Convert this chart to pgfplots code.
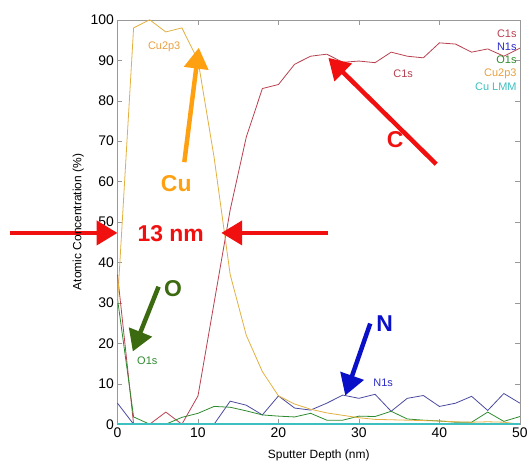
\documentclass[border=0pt]{standalone}
\usepackage{pgfplots}
\pgfplotsset{compat=1.18}
\usepackage{fontspec}
\setmainfont{Liberation Sans}
\usetikzlibrary{arrows.meta}
\definecolor{cC}{HTML}{B8404F}
\definecolor{cN}{HTML}{4A4AA0}
\definecolor{cNt}{HTML}{2A2AC8}
\definecolor{cO}{HTML}{2E8A2E}
\definecolor{cCu}{HTML}{E2B040}
\definecolor{cCut}{HTML}{E8A040}
\definecolor{cLMM}{HTML}{3EC0C0}
\definecolor{aRed}{HTML}{F01010}
\definecolor{aOrange}{HTML}{FFA010}
\definecolor{aGreen}{HTML}{3C6A10}
\definecolor{aBlue}{HTML}{0A10C8}

\pgfplotstableread{
x   C1s   N1s   O1s   Cu2p3  CuLMM
0   37    5.2   31    30     0
2   0     0     1.8   98     0
4   0     0     0     100    0
6   3     0     0     97     0
8   0     0     1.7   98     0
10  7     0     2.7   90     0
12  30    0     4.4   66     0
14  53    5.7   4.2   37     0
16  71    4.7   3.3   22     0
18  83    2.3   2.3   13     0
20  84    7     2.0   7      0
22  89    4     1.8   5      0
24  91    3.5   2.7   3.7    0
26  91.5  5.2   1.0   2.8    0
28  89.5  7.2   1.0   2.2    0
30  89.8  6.4   2.0   1.6    0
32  89.4  7.4   1.9   1.2    0
34  92    3.2   3.2   1.1    0
36  91    6.4   1.3   1.0    0
38  90.6  7.1   1.0   0.9    0
40  94.3  4.4   0.8   0.8    0
42  94    5.2   0.5   0.6    0
44  92    6.9   0.5   0.5    0
46  92.8  3.4   3.0   0.6    0
48  91    7.6   0.7   0.5    0
50  93    5.2   1.9   0      0
}\depth

\begin{document}
\begin{tikzpicture}
\begin{axis}[
  scale only axis, width=404pt, height=406pt,
  xmin=0, xmax=50, ymin=0, ymax=100,
  xtick={0,10,...,50}, ytick={0,10,...,100},
  tick align=inside, tick pos=both,
  major tick length=5pt,
  axis line style={draw=gray!80}, tick style={draw=gray!80},
  /pgf/number format/assume math mode=true,
  tick label style={font=\fontsize{14}{15}\selectfont},
  label style={font=\fontsize{12}{13}\selectfont},
  xlabel={Sputter Depth (nm)},
  xlabel style={yshift=-5pt},
  ylabel={Atomic Concentration (\%)},
  clip=false,
  legend style={draw=none, fill=none, at={(0.997,0.982)}, anchor=north east,
    font=\fontsize{11}{12}\selectfont, inner sep=0pt, row sep=0pt,
    cells={anchor=east, text height=7.8pt, text depth=3pt, inner sep=0pt}},
  legend image code/.code={},
  legend cell align=right,
]
\addplot[cC, line width=0.8pt] table[x=x, y=C1s] {\depth};
\addlegendentry[text=cC]{C1s}
\addplot[cN, line width=0.8pt] table[x=x, y=N1s] {\depth};
\addlegendentry[text=cNt]{N1s}
\addplot[cO, line width=0.8pt] table[x=x, y=O1s] {\depth};
\addlegendentry[text=cO]{O1s}
\addplot[cCu, line width=0.8pt] table[x=x, y=Cu2p3] {\depth};
\addlegendentry[text=cCut]{Cu2p3}
\addplot[cLMM, line width=1.6pt] table[x=x, y=CuLMM] {\depth};
\addlegendentry[text=cLMM]{Cu LMM}

% bounding frame matching the reference margins
\path (rel axis cs:-0.292,-0.0985) rectangle (rel axis cs:1.022,1.049);

% small series labels
\node[text=cCut, font=\fontsize{11}{12}\selectfont] at (axis cs:5.8,93.3) {Cu2p3};
\node[text=cC, font=\fontsize{11}{12}\selectfont] at (axis cs:35.5,86.7) {C1s};
\node[text=cO, font=\fontsize{11}{12}\selectfont] at (axis cs:3.7,15.8) {O1s};
\node[text=cNt, font=\fontsize{11}{12}\selectfont] at (axis cs:33,10.3) {N1s};

% annotations
\tikzset{ann/.style={line width=4.5pt, -{Triangle[length=21pt,width=24pt]}},
         big/.style={font=\bfseries\fontsize{23}{25}\selectfont}}
\draw[ann, aRed] (axis cs:-13.4,47.3) -- (axis cs:0,47.3);
\draw[ann, aRed] (axis cs:26.2,47.3) -- (axis cs:12.9,47.3);
\node[text=aRed, big] at (axis cs:6.6,47.2) {13 nm};
\draw[ann, aOrange] (axis cs:8.3,64.8) -- (axis cs:10.1,93.1);
\node[text=aOrange, big] at (axis cs:7.3,59.6) {Cu};
\draw[ann, aRed] (axis cs:39.6,64.3) -- (axis cs:26.2,90.6);
\node[text=aRed, big] at (axis cs:34.5,70.4) {C};
\draw[ann, aGreen] (axis cs:5.1,34) -- (axis cs:1.9,18);
\node[text=aGreen, big] at (axis cs:6.9,33.6) {O};
\draw[ann, aBlue] (axis cs:31.4,24.9) -- (axis cs:28.3,7.1);
\node[text=aBlue, big] at (axis cs:33.2,24.9) {N};
\end{axis}
\end{tikzpicture}
\end{document}
